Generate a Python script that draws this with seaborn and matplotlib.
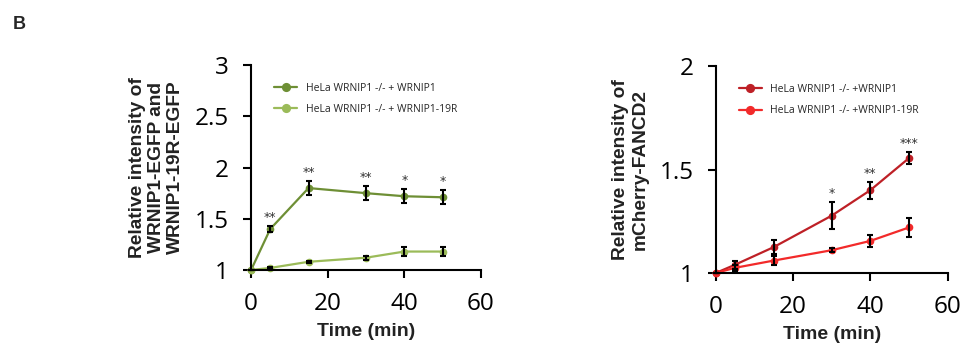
import numpy as np
import pandas as pd
import matplotlib
matplotlib.use('Agg')
import matplotlib.pyplot as plt
import seaborn as sns

sns.set_style('white')
plt.rcParams['font.family'] = ['Open Sans', 'DejaVu Sans']

# time points (min)
time = [0, 5, 15, 30, 40, 50]

# left panel: WRNIP1-EGFP vs WRNIP1-19R-EGFP
egfp_wt = [1.0, 1.40, 1.80, 1.75, 1.72, 1.71]
egfp_wt_err = [0.0, 0.03, 0.07, 0.07, 0.07, 0.07]
egfp_19r = [1.0, 1.02, 1.08, 1.12, 1.18, 1.18]
egfp_19r_err = [0.0, 0.01, 0.01, 0.02, 0.04, 0.04]
egfp_stars = ['', '**', '**', '**', '*', '*']

# right panel: mCherry-FANCD2
fancd2_wt = [1.0, 1.04, 1.125, 1.277, 1.40, 1.555]
fancd2_wt_err = [0.0, 0.02, 0.035, 0.065, 0.04, 0.03]
fancd2_19r = [1.0, 1.025, 1.06, 1.11, 1.155, 1.22]
fancd2_19r_err = [0.0, 0.015, 0.02, 0.01, 0.03, 0.045]
fancd2_stars = ['', '', '', '*', '**', '***']

label_font = dict(family='Liberation Sans', weight='bold', color='#222222')


def panel(ax, y1, e1, y2, e2, stars, names, colors, ylim, yticks, ylabel, star_off):
    df = pd.DataFrame({'Time': time * 2, 'Value': y1 + y2,
                       'Group': [names[0]] * len(time) + [names[1]] * len(time)})
    sns.lineplot(data=df, x='Time', y='Value', hue='Group', palette=colors,
                 marker='o', markersize=5.5, markeredgewidth=0, linewidth=1.6,
                 ax=ax, zorder=3)
    ax.errorbar(time, y1, yerr=e1, fmt='none', ecolor='black', elinewidth=1.5,
                capsize=2.5, capthick=1.5, zorder=4)
    ax.errorbar(time, y2, yerr=e2, fmt='none', ecolor='black', elinewidth=1.5,
                capsize=2.5, capthick=1.5, zorder=4)
    for t, v, e, s in zip(time, y1, e1, stars):
        if s:
            ax.text(t, v + e + star_off, s, ha='center', va='bottom', fontsize=9,
                    color='#333333', family='DejaVu Sans')
    ax.set_xlim(0, 60)
    ax.set_ylim(*ylim)
    ax.set_xticks([0, 20, 40, 60])
    ax.set_yticks(yticks)
    ax.set_yticklabels([f'{v:g}' for v in yticks])
    ax.tick_params(axis='both', direction='out', length=6, width=1.5, pad=10,
                   labelsize=17.5, colors='black', left=True, bottom=True)
    for side in ['top', 'right']:
        ax.spines[side].set_visible(False)
    for side in ['left', 'bottom']:
        ax.spines[side].set_linewidth(1.5)
        ax.spines[side].set_color('black')
    ax.set_xlabel('Time (min)', fontsize=14, labelpad=5, **label_font)
    ax.set_ylabel(ylabel, fontsize=13.8, labelpad=8, linespacing=1.15, **label_font)
    ax.legend(loc='upper left', bbox_to_anchor=(0.06, 0.96), frameon=False,
              handlelength=2.2, labelspacing=1.0, title=None, markerscale=1.2,
              prop={'family': 'Open Sans', 'size': 7.5})
    for spine in ax.spines.values():
        spine.set_zorder(5)
    for line in ax.lines:
        line.set_clip_on(False)
    for c in ax.collections:
        c.set_clip_on(False)


fig = plt.figure(figsize=(9.62, 3.46), dpi=100)
ax1 = fig.add_axes([0.261, 0.2197, 0.239, 0.592])
ax2 = fig.add_axes([0.744, 0.211, 0.241, 0.598])

panel(ax1, egfp_wt, egfp_wt_err, egfp_19r, egfp_19r_err, egfp_stars,
      ['HeLa WRNIP1 -/- + WRNIP1', 'HeLa WRNIP1 -/- + WRNIP1-19R'],
      ['#6E8F35', '#9BBB59'], (1, 3), [1, 1.5, 2, 2.5, 3],
      'Relative intensity of\nWRNIP1-EGFP and\nWRNIP1-19R-EGFP', 0.02)

panel(ax2, fancd2_wt, fancd2_wt_err, fancd2_19r, fancd2_19r_err, fancd2_stars,
      ['HeLa WRNIP1 -/- +WRNIP1', 'HeLa WRNIP1 -/- +WRNIP1-19R'],
      ['#BE2026', '#F22A2A'], (1, 2), [1, 1.5, 2],
      'Relative intensity of\nmCherry-FANCD2', 0.01)

fig.text(0.013, 0.915, 'B', fontsize=13, fontweight='bold', family='Liberation Sans')

fig.savefig('out.png', dpi=100)
